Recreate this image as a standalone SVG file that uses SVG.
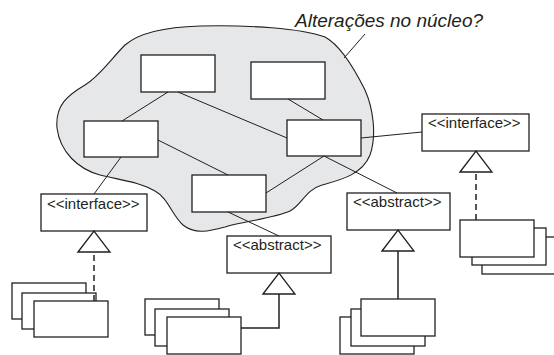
<svg xmlns="http://www.w3.org/2000/svg" width="554" height="355" viewBox="0 0 554 355">
<style>
.box{fill:#fff;stroke:#231f20;stroke-width:1.3}
.ln{fill:none;stroke:#231f20;stroke-width:1}
.gen{fill:none;stroke:#231f20;stroke-width:1.5}
.dash{stroke-dasharray:6 4}
.lbl{font-family:"Liberation Sans",Arial,sans-serif;font-size:15px;fill:#231f20}
.title{font-family:"Liberation Sans",Arial,sans-serif;font-size:19px;font-style:italic;fill:#231f20}
.cloud{fill:#e6e7e8;stroke:#231f20;stroke-width:1.1}
</style>
<defs>
<marker id="tri" viewBox="0 0 21 32" refX="21" refY="16" markerWidth="21" markerHeight="32" markerUnits="userSpaceOnUse" orient="auto" overflow="visible">
<path d="M0,0 L21,16 L0,32 Z" fill="#fff" stroke="#231f20" stroke-width="1.3" stroke-linejoin="miter"/>
</marker>
</defs>
<g id="nucleo">
<path class="cloud" d="M200,26 C250,25 300,28 325,37 C340,45 355,70 365,90 C373,108 377,135 370,155 C362,175 340,180 322,185 C305,190 302,205 290,211 C275,218 245,221 225,227 C210,231 195,235 183,225 C172,215 168,198 155,191 C140,182 120,180 100,175 C78,169 60,152 57,128 C55,105 68,95 85,85 C100,76 110,60 125,45 C140,32 165,27 200,26 Z"/>
</g>
<g id="titulo">
<text class="title" x="295" y="27">Alterações no núcleo?</text>
<line class="ln" x1="365" y1="34" x2="344" y2="58"/>
</g>
<g id="classA"><rect class="box" x="141" y="55" width="74" height="37"/></g>
<g id="classB"><rect class="box" x="251" y="62" width="74" height="37"/></g>
<g id="classC"><rect class="box" x="84" y="121" width="74" height="36"/></g>
<g id="classD"><rect class="box" x="192" y="175" width="74" height="37"/></g>
<g id="classE"><rect class="box" x="287" y="120" width="74" height="36"/></g>
<g id="interfaceLeft"><rect class="box" x="41" y="194" width="106" height="37"/><text class="lbl" x="47" y="209">&lt;&lt;interface&gt;&gt;</text></g>
<g id="interfaceRight"><rect class="box" x="422" y="114" width="107" height="37"/><text class="lbl" x="428" y="128">&lt;&lt;interface&gt;&gt;</text></g>
<g id="abstractMid"><rect class="box" x="227" y="236" width="104" height="37"/><text class="lbl" x="233" y="250">&lt;&lt;abstract&gt;&gt;</text></g>
<g id="abstractRight"><rect class="box" x="347" y="193" width="103" height="37"/><text class="lbl" x="353" y="207">&lt;&lt;abstract&gt;&gt;</text></g>
<g id="implLeft">
<rect class="box" x="12" y="283" width="74" height="36"/>
<rect class="box" x="22" y="293" width="74" height="36"/>
<rect class="box" x="34" y="301" width="74" height="36"/>
</g>
<g id="implMid">
<rect class="box" x="145" y="299" width="74" height="36"/>
<rect class="box" x="155" y="309" width="74" height="37"/>
<rect class="box" x="167" y="317" width="74" height="37"/>
</g>
<g id="implRightBottom">
<rect class="box" x="340" y="317" width="74" height="37"/>
<rect class="box" x="351" y="309" width="74" height="37"/>
<rect class="box" x="361" y="299" width="74" height="37"/>
</g>
<g id="implRightTop">
<rect class="box" x="482" y="237" width="74" height="37"/>
<rect class="box" x="472" y="228" width="74" height="37"/>
<rect class="box" x="460" y="220" width="74" height="37"/>
</g>
<g id="connectors">
<line class="ln" x1="168" y1="92" x2="122" y2="121"/>
<line class="ln" x1="178" y1="92" x2="287" y2="138"/>
<line class="ln" x1="288" y1="99" x2="323" y2="120"/>
<line class="ln" x1="158" y1="140" x2="228" y2="175"/>
<line class="ln" x1="121" y1="157" x2="94" y2="194"/>
<line class="ln" x1="324" y1="156" x2="266" y2="193"/>
<line class="ln" x1="324" y1="156" x2="397" y2="193"/>
<line class="ln" x1="228" y1="212" x2="279" y2="236"/>
<line class="ln" x1="361" y1="138" x2="422" y2="132"/>
<path class="gen dash" d="M94,301 L94,231" marker-end="url(#tri)"/>
<path class="gen" d="M241,328 L279,328 L279,273" marker-end="url(#tri)"/>
<path class="gen" d="M398,299 L398,230" marker-end="url(#tri)"/>
<path class="gen dash" d="M476,220 L476,151" marker-end="url(#tri)"/>
</g>
</svg>
